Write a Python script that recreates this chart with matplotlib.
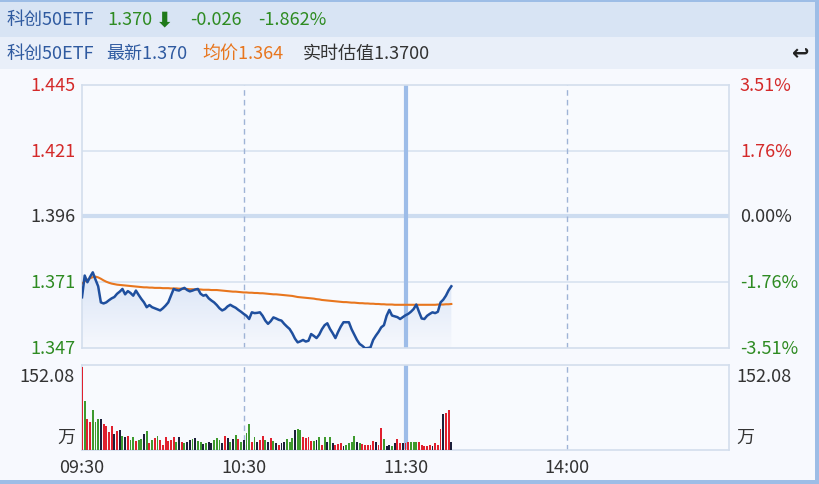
import matplotlib
matplotlib.use("Agg")
import matplotlib.pyplot as plt
import numpy as np
from matplotlib.patches import Rectangle

plt.rcParams['font.family'] = ['Noto Sans CJK SC', 'DejaVu Sans']

# previous close and header values
pre_close = 1.396
last_price = 1.370
change = -0.026
change_pct = -1.862
avg_price_now = 1.364
estimate = 1.3700

# minute prices from 09:30 (index 0), one per minute
price = [
    1.3659, 1.3740, 1.3715, 1.3735, 1.3752, 1.3725, 1.3700, 1.3640, 1.3636, 1.3640,
    1.3648, 1.3655, 1.3660, 1.3672, 1.3680, 1.3690, 1.3670, 1.3682, 1.3675, 1.3665,
    1.3684, 1.3668, 1.3653, 1.3640, 1.3622, 1.3630, 1.3622, 1.3618, 1.3614, 1.3610,
    1.3618, 1.3628, 1.3640, 1.3665, 1.3690, 1.3686, 1.3684, 1.3690, 1.3694, 1.3686,
    1.3681, 1.3684, 1.3688, 1.3690, 1.3672, 1.3665, 1.3668, 1.3655, 1.3647, 1.3640,
    1.3630, 1.3618, 1.3610, 1.3615, 1.3625, 1.3631, 1.3625, 1.3620, 1.3612, 1.3605,
    1.3597, 1.3590, 1.3578, 1.3603, 1.3600, 1.3601, 1.3603, 1.3590, 1.3572, 1.3560,
    1.3570, 1.3584, 1.3580, 1.3575, 1.3572, 1.3560, 1.3550, 1.3541, 1.3525, 1.3505,
    1.3491, 1.3495, 1.3500, 1.3494, 1.3497, 1.3522, 1.3515, 1.3507, 1.3520, 1.3540,
    1.3555, 1.3562, 1.3541, 1.3525, 1.3507, 1.3530, 1.3550, 1.3566, 1.3566, 1.3566,
    1.3540, 1.3520, 1.3500, 1.3485, 1.3478, 1.3469, 1.3470, 1.3472, 1.3500, 1.3516,
    1.3530, 1.3547, 1.3555, 1.3590, 1.3612, 1.3591, 1.3588, 1.3585, 1.3578, 1.3585,
    1.3592, 1.3597, 1.3605, 1.3615, 1.3632, 1.3605, 1.3580, 1.3578, 1.3590, 1.3597,
    1.3603, 1.3600, 1.3605, 1.3640, 1.3650, 1.3665, 1.3685, 1.3700,
]

# running average price
avg_price = [
    1.3710, 1.3718, 1.3724, 1.3730, 1.3734, 1.3736, 1.3733, 1.3728, 1.3722, 1.3717,
    1.3713, 1.3710, 1.3708, 1.3706, 1.3705, 1.3704, 1.3703, 1.3702, 1.3701, 1.3700,
    1.3699, 1.3698, 1.3697, 1.3696, 1.3696, 1.3695, 1.3695, 1.3694, 1.3694, 1.3694,
    1.3693, 1.3693, 1.3693, 1.3692, 1.3692, 1.3692, 1.3691, 1.3691, 1.3690, 1.3690,
    1.3689, 1.3689, 1.3688, 1.3688, 1.3688, 1.3687, 1.3687, 1.3687, 1.3686, 1.3686,
    1.3686, 1.3685, 1.3684, 1.3683, 1.3682, 1.3681, 1.3680, 1.3680, 1.3679, 1.3678,
    1.3677, 1.3677, 1.3676, 1.3676, 1.3675, 1.3675, 1.3674, 1.3674, 1.3673, 1.3672,
    1.3671, 1.3670, 1.3670, 1.3669, 1.3668, 1.3667, 1.3666, 1.3665, 1.3664, 1.3662,
    1.3660, 1.3659, 1.3658, 1.3657, 1.3656, 1.3655, 1.3654, 1.3652, 1.3651, 1.3649,
    1.3648, 1.3647, 1.3646, 1.3645, 1.3644, 1.3643, 1.3642, 1.3641, 1.3641, 1.3640,
    1.3639, 1.3639, 1.3638, 1.3637, 1.3637, 1.3636, 1.3636, 1.3635, 1.3635, 1.3634,
    1.3634, 1.3633, 1.3633, 1.3632, 1.3632, 1.3632, 1.3631, 1.3631, 1.3631, 1.3631,
    1.3631, 1.3631, 1.3631, 1.3631, 1.3631, 1.3631, 1.3631, 1.3631, 1.3631, 1.3631,
    1.3631, 1.3631, 1.3632, 1.3632, 1.3632, 1.3633, 1.3633, 1.3634,
]

# minute volume (万) and direction: r up, g down, k flat
volume = [
    152.08, 89, 57, 52, 73, 52, 57, 57, 47, 44,
    32, 44, 30, 35, 37, 26, 24, 26, 19, 23,
    16, 19, 20, 29, 34, 13, 19, 21, 26, 19,
    10, 23, 16, 19, 23, 15, 23, 15, 12, 14,
    18, 20, 22, 17, 14, 11, 12, 15, 13, 18,
    22, 19, 12, 26, 21, 15, 20, 28, 20, 15,
    18, 31, 47, 15, 23, 14, 18, 26, 19, 15,
    21, 17, 13, 10, 12, 14, 20, 15, 21, 37,
    39, 36, 23, 22, 23, 16, 16, 19, 23, 10,
    23, 14, 23, 12, 10, 11, 13, 8, 10, 12,
    15, 26, 14, 12, 11, 9, 10, 9, 16, 14,
    10, 41, 20, 8, 10, 8, 12, 20, 13, 12,
    12, 14, 15, 15, 14, 14, 10, 8, 8, 9,
    8, 12, 10, 39, 65, 68, 73, 15,
]
direction = (
    "rgrrgggkrr" "rrkrkgkrgg" "rggkgrgrgr" "rrrrrgkrgk"
    "kgkggkgkkg" "ggkrkgkgrg" "kggrgkrrgk" "rgkrkkgggk"
    "ggrrrrgkgr" "gkgkrrrkgg" "ggkgrrrrrk" "rrgkkgkrrk"
    "rrgggrrrrr" "krrrkrrk"
)

labels_x = [0, 60, 120, 180]
labels_t = ["09:30", "10:30", "11:30", "14:00"]

W, H = 819, 485
fig = plt.figure(figsize=(W / 100, H / 100), dpi=100)
fig.patch.set_facecolor('#f7f9fe')


def box(x0, y0, x1, y1):
    return [x0 / W, 1 - y1 / H, (x1 - x0) / W, (y1 - y0) / H]


# header bands and borders
def band(x0, y0, w, h, c, z=0):
    fig.patches.append(Rectangle((x0, y0), w, h, transform=fig.transFigure,
                                 facecolor=c, edgecolor='none', zorder=z))


band(0, 1 - 38 / H, 1, 38 / H, '#d8e4f4')
band(0, 1 - 70 / H, 1, 32 / H, '#e9eff9')
band(0, 1 - 3 / H, 1, 3 / H, '#9dbde6', 1)
band(0, 0, 1, 4 / H, '#9dbde6', 1)
band(1 - 4 / W, 0, 4 / W, 1, '#9dbde6', 1)

fs = 13
blue = '#2f5aa0'
green = '#2e8b22'
red = '#d42a2a'
orange = '#e8761e'
dark = '#333333'

y1 = 1 - 20 / H
fig.text(7 / W, y1, "科创50ETF", color=blue, fontsize=fs, va='center')
fig.text(107 / W, y1, f"{last_price:.3f}", color=green, fontsize=fs, va='center')
fig.text(156 / W, y1, "⬇", color='#1f7a1a', fontsize=fs + 2, va='center',
         family=['DejaVu Sans'], fontweight='bold')
fig.text(190 / W, y1, f"{change:.3f}", color=green, fontsize=fs, va='center')
fig.text(258 / W, y1, f"{change_pct:.3f}%", color=green, fontsize=fs, va='center')

y2 = 1 - 54 / H
fig.text(7 / W, y2, "科创50ETF", color=blue, fontsize=fs, va='center')
fig.text(106 / W, y2, f"最新{last_price:.3f}", color=blue, fontsize=fs, va='center')
fig.text(202 / W, y2, f"均价{avg_price_now:.3f}", color=orange, fontsize=fs, va='center')
fig.text(303 / W, y2, f"实时估值{estimate:.4f}", color=dark, fontsize=fs, va='center')
fig.text(801 / W, y2, "↩", color='#222222', fontsize=fs + 2, va='center', ha='center',
         family=['DejaVu Sans'], fontweight='bold')

# price panel
ax = fig.add_axes(box(82, 86, 729, 349))
ax.set_facecolor('#f8fafe')
lo, hi = pre_close * (1 - 0.0351), pre_close * (1 + 0.0351)
ax.set_xlim(0, 240)
ax.set_ylim(lo, hi)
x = list(range(len(price)))

# gradient fill under the price line
poly = ax.fill_between(x, price, lo, color='none', lw=0)
grad = np.linspace(0, 1, 256).reshape(-1, 1)
img = ax.imshow(grad, extent=[0, len(price) - 1, lo, max(price)], origin='lower',
                aspect='auto', cmap=matplotlib.colors.LinearSegmentedColormap.from_list(
                    'f', ['#f6f8fd', '#d9e4f6']), zorder=1)
img.set_clip_path(poly.get_paths()[0], transform=ax.transData)
ax.set_xlim(0, 240)
ax.set_ylim(lo, hi)

for pct in (0.0176, -0.0176):
    ax.axhline(pre_close * (1 + pct), color='#dbe4f1', lw=1.3, zorder=0)
ax.axhline(pre_close, color='#cddcf0', lw=3, zorder=0)
ax.axvline(60, color='#9fb3d6', lw=1, ls=(0, (4, 3)), zorder=2)
ax.axvline(180, color='#9fb3d6', lw=1, ls=(0, (4, 3)), zorder=2)
ax.axvline(120, color='#9dbce8', lw=3, zorder=2)
ax.plot(x, avg_price, color=orange, lw=1.5, zorder=3)
ax.plot(x, price, color='#1f4f9e', lw=1.8, zorder=4)
ax.set_xticks([])
ax.set_yticks([])
for s in ax.spines.values():
    s.set_color('#d3deed')
    s.set_linewidth(1.2)

levels = [0.0351, 0.0176, 0.0, -0.0176, -0.0351]
for p in levels:
    col = red if p > 0 else (green if p < 0 else dark)
    v = pre_close * (1 + p)
    ax.text(-7 / 647 * 240, v, f"{v:.3f}", color=col, fontsize=fs, ha='right', va='center')
    ax.text(240 + 11 / 647 * 240, v, f"{p * 100:.2f}%", color=col, fontsize=fs,
            ha='left', va='center')

# volume panel
vx = fig.add_axes(box(82, 366, 729, 451))
vx.set_facecolor('#f8fafe')
vx.set_xlim(0, 240)
vmax = max(volume)
vx.set_ylim(0, vmax * 1.02)
cmap = {'r': '#e0202e', 'g': '#3e9a2e', 'k': '#1c1f3a'}
vx.bar(x, volume, width=0.7, color=[cmap[c] for c in direction], zorder=3)
vx.axvline(60, color='#9fb3d6', lw=1, ls=(0, (4, 3)), zorder=0)
vx.axvline(180, color='#9fb3d6', lw=1, ls=(0, (4, 3)), zorder=0)
vx.axvline(120, color='#9dbce8', lw=3, zorder=1)
vx.set_xticks([])
vx.set_yticks([])
for s in vx.spines.values():
    s.set_color('#d3deed')
    s.set_linewidth(1.2)

fig.text(75 / W, 1 - 377 / H, f"{vmax:.2f}", color=dark, fontsize=fs, ha='right', va='center')
fig.text(736 / W, 1 - 377 / H, f"{vmax:.2f}", color=dark, fontsize=fs, ha='left', va='center')
fig.text(75 / W, 1 - 438 / H, "万", color=dark, fontsize=fs, ha='right', va='center')
fig.text(736 / W, 1 - 438 / H, "万", color=dark, fontsize=fs, ha='left', va='center')

for t, lab in zip(labels_x, labels_t):
    fig.text((82 + t * 647 / 240) / W, 1 - 468 / H, lab, color=dark, fontsize=fs,
             ha='center', va='center')

fig.savefig("out.png", dpi=100, facecolor=fig.get_facecolor())
